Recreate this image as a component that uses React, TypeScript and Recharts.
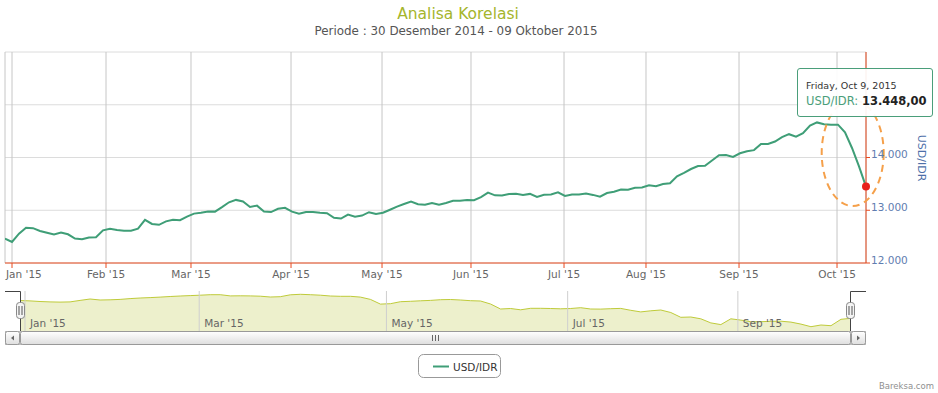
import React from 'react';
import {
  LineChart, Line, XAxis, YAxis, CartesianGrid, ReferenceDot,
  AreaChart, Area, ReferenceLine,
} from 'recharts';

// ---------- DATA ----------
const chartTitle = 'Analisa Korelasi';
const chartSubtitle = 'Periode : 30 Desember 2014 - 09 Oktober 2015';
const seriesName = 'USD/IDR';

// USD/IDR closing values (trading-day ordinal sampling, 30 Dec 2014 -> 9 Oct 2015)
const usdIdr = [
  12464, 12398, 12555, 12667, 12660, 12607, 12574, 12540, 12578, 12544,
  12464, 12451, 12482, 12487, 12620, 12650, 12624, 12610, 12612, 12652,
  12819, 12741, 12724, 12789, 12821, 12811, 12880, 12936, 12952, 12978,
  12974, 13058, 13151, 13196, 13166, 13063, 13088, 12978, 12965, 13027,
  13045, 12974, 12936, 12967, 12969, 12954, 12944, 12857, 12842, 12919,
  12878, 12899, 12963, 12929, 12952, 13010, 13069, 13118, 13166, 13113,
  13103, 13139, 13107, 13137, 13179, 13181, 13194, 13189, 13249, 13333,
  13283, 13278, 13308, 13312, 13291, 13310, 13251, 13295, 13299, 13340,
  13270, 13300, 13300, 13319, 13291, 13257, 13327, 13350, 13393, 13391,
  13426, 13431, 13475, 13454, 13496, 13511, 13642, 13710, 13782, 13837,
  13843, 13943, 14042, 14045, 14011, 14080, 14117, 14140, 14254, 14256,
  14303, 14387, 14442, 14396, 14463, 14607, 14665, 14631, 14620, 14622,
  14478, 14180, 13833, 13448,
];

// month ticks (position in the ordinal index space) and their labels
const monthTickIdx = [1.0, 14.43, 26.57, 40.86, 53.86, 66.57, 79.86, 91.57, 104.86, 118.86];
const monthLabels = ["Jan '15", "Feb '15", "Mar '15", "Apr '15", "May '15", "Jun '15", "Jul '15", "Aug '15", "Sep '15", "Oct '15"];

const yTicks = [12000, 13000, 14000, 15000, 16000];
// 15.000 sits under the tooltip and 16.000 is the hidden last label in the reference
const yTickLabels = ['12.000', '13.000', '14.000', '', ''];
const yDomain = [12000, 16000];

// highlighted annotation (centre of the dashed ellipse, in data space)
const highlightCenter = { idx: 121.1, value: 14085 };

// tooltip
const tooltipDate = 'Friday, Oct 9, 2015';
const tooltipValue = '13.448,00';

// navigator series (relative units)
const navValues = [
  30.5, 30.1, 29.5, 29.1, 28.9, 29.1, 30.6, 32, 31, 31.2,
  31.6, 32.4, 33, 33.4, 33.9, 34.5, 35, 35.4, 35.8, 36.3,
  36.3, 35.1, 35.2, 35.1, 34.8, 34, 34.3, 36.2, 36.7, 36.3,
  35.8, 35, 34.7, 34.7, 33.9, 31.6, 26.9, 27.3, 29.3, 29.7,
  30.2, 30.6, 31.3, 31.5, 31, 30.3, 30, 27, 22, 22.5,
  21.2, 22.7, 22.7, 22.5, 22.2, 22.5, 23.3, 22, 21.9, 22.3,
  22.6, 20.7, 19.1, 20.2, 21, 18.5, 13.7, 14, 12.2, 8.1,
  6.4, 12.2, 10.9, 9.3, 9.3, 9.7, 9.8, 8.9, 6.9, 4.3,
  6, 5.3, 11.7, 12.7,
];
const navDomain = [0, 40];
const navTickIdx = [0.5, 17.9, 36.6, 54.7, 71.7];
const navLabels = ["Jan '15", "Mar '15", "May '15", "Jul '15", "Sep '15"];

// ---------- STYLE ----------
const FONT = '"DejaVu Sans", Verdana, sans-serif';
const AXIS_RED = '#e84a1f';
const LINE_GREEN = '#3f9e77';
const mainData = usdIdr.map((v, i) => ({ i, v }));
const navData = navValues.map((v, i) => ({ i, v }));
const N = usdIdr.length;

const XTick = (props: any) => {
  const { x, y, payload, index } = props;
  const k = monthTickIdx.indexOf(payload.value);
  const label = monthLabels[k >= 0 ? k : index] ?? '';
  const first = k === 0;
  return (
    <g>
      <line x1={x} x2={x} y1={y} y2={y + 5} stroke={AXIS_RED} strokeWidth={1} />
      <text
        x={first ? x - 6 : x}
        y={y + 15}
        textAnchor={first ? 'start' : 'middle'}
        fontFamily={FONT}
        fontSize={10.5}
        fill="#666"
      >
        {label}
      </text>
    </g>
  );
};

const YTick = (props: any) => {
  const { x, y, payload } = props;
  const k = yTicks.indexOf(payload.value);
  const label = yTickLabels[k] ?? '';
  if (!label) return <g />;
  return (
    <g>
      <line x1={x} x2={x + 4} y1={y} y2={y} stroke={AXIS_RED} strokeWidth={1} />
      <text x={x + 5} y={y + 0.5} textAnchor="start" fontFamily={FONT} fontSize={10.5} fill="#5f7db0">
        {label}
      </text>
    </g>
  );
};

const EllipseShape = (props: any) => {
  const { cx, cy } = props;
  if (cx == null || cy == null) return <g />;
  return (
    <ellipse
      cx={cx}
      cy={cy}
      rx={31}
      ry={53}
      fill="none"
      stroke="#f5a04a"
      strokeWidth={2}
      strokeDasharray="7 5"
    />
  );
};

const NavLabel = (text: string) => (props: any) => {
  const vb = props.viewBox || {};
  return (
    <text x={(vb.x ?? 0) + 5} y={36} fontFamily={FONT} fontSize={10.5} fill="#666">
      {text}
    </text>
  );
};

export default function App() {
  return (
    <div style={{ position: 'fixed', left: 0, top: 0, width: 938, height: 393, background: '#fff', overflow: 'hidden' }}>
      {/* main chart */}
      <div style={{ position: 'absolute', left: 0, top: 0 }}>
        <LineChart width={938} height={290} data={mainData} margin={{ top: 52, left: 5, right: 0, bottom: 0 }}>
          <CartesianGrid vertical={false} stroke="#dcdcdc" strokeDasharray="" />
          <CartesianGrid horizontal={false} stroke="#c6c6c6" strokeDasharray="" />
          <XAxis
            dataKey="i"
            type="number"
            domain={[0, N - 1]}
            ticks={monthTickIdx}
            interval={0}
            tick={<XTick />}
            tickLine={false}
            tickSize={0}
            tickMargin={0}
            height={27}
            axisLine={{ stroke: AXIS_RED, strokeWidth: 1 }}
            allowDataOverflow
          />
          <YAxis
            orientation="right"
            type="number"
            domain={yDomain}
            ticks={yTicks}
            interval={0}
            tick={<YTick />}
            tickLine={false}
            tickSize={0}
            tickMargin={0}
            width={72}
            axisLine={{ stroke: AXIS_RED, strokeWidth: 1 }}
            allowDataOverflow
          />
          <YAxis
            yAxisId="left"
            orientation="left"
            type="number"
            domain={[0, 1]}
            width={0}
            tick={false}
            tickLine={false}
            axisLine={{ stroke: AXIS_RED, strokeWidth: 1 }}
          />
          <Line
            type="linear"
            dataKey="v"
            stroke={LINE_GREEN}
            strokeWidth={2}
            dot={false}
            activeDot={false}
            isAnimationActive={false}
          />
          <ReferenceDot
            x={highlightCenter.idx}
            y={highlightCenter.value}
            shape={<EllipseShape />}
            ifOverflow="visible"
          />
          <ReferenceDot
            x={N - 1}
            y={usdIdr[N - 1]}
            r={4}
            fill="#e8201b"
            stroke="none"
            ifOverflow="visible"
          />
        </LineChart>
      </div>

      {/* navigator */}
      <div style={{ position: 'absolute', left: 0, top: 291 }}>
        <AreaChart width={938} height={40} data={navData} margin={{ top: 0, left: 20, right: 87, bottom: 0 }}>
          <XAxis dataKey="i" type="number" domain={[0, navValues.length - 1]} hide />
          <YAxis type="number" domain={navDomain} hide />
          <Area
            type="linear"
            dataKey="v"
            stroke="#bfcb3a"
            strokeWidth={1}
            fill="#edf0cc"
            fillOpacity={1}
            dot={false}
            activeDot={false}
            isAnimationActive={false}
          />
          {navTickIdx.map((t, k) => (
            <ReferenceLine key={k} x={t} stroke="#cfcfcf" strokeWidth={1} label={NavLabel(navLabels[k])} />
          ))}
        </AreaChart>
      </div>

      {/* chrome overlay */}
      <svg width={938} height={393} style={{ position: 'absolute', left: 0, top: 0, pointerEvents: 'none' }}>
        <defs>
          <linearGradient id="sb" x1="0" y1="0" x2="0" y2="1">
            <stop offset="0" stopColor="#ffffff" />
            <stop offset="1" stopColor="#dedede" />
          </linearGradient>
        </defs>
        <text x={458} y={19} textAnchor="middle" fontFamily={FONT} fontSize={15.5} fill="#a5b52c">
          {chartTitle}
        </text>
        <text x={456} y={35} textAnchor="middle" fontFamily={FONT} fontSize={11.9} fill="#555">
          {chartSubtitle}
        </text>
        <text
          x={0}
          y={0}
          transform="translate(918,158) rotate(90)"
          textAnchor="middle"
          fontFamily={FONT}
          fontSize={11}
          fill="#4d6fa9"
        >
          {seriesName}
        </text>

        {/* navigator outline */}
        <path d="M5 291.5 H20.5 V331" stroke="#444" strokeWidth={1} fill="none" />
        <path d="M850.5 331 V291.5 H866" stroke="#444" strokeWidth={1} fill="none" />

        {/* scrollbar */}
        <rect x={5.5} y={331.5} width={860} height={13} fill="#eeeeee" stroke="#bbb" />
        <rect x={20.5} y={331.5} width={830} height={13} rx={2} fill="url(#sb)" stroke="#999" />
        <rect x={5.5} y={331.5} width={14} height={13} rx={2} fill="url(#sb)" stroke="#999" />
        <rect x={851.5} y={331.5} width={14} height={13} rx={2} fill="url(#sb)" stroke="#999" />
        <path d="M11 338 L14 335.5 L14 340.5 Z" fill="#666" />
        <path d="M860 338 L857 335.5 L857 340.5 Z" fill="#666" />
        <g stroke="#666" strokeWidth={1}>
          <line x1={432.5} x2={432.5} y1={335} y2={341} />
          <line x1={435.5} x2={435.5} y1={335} y2={341} />
          <line x1={438.5} x2={438.5} y1={335} y2={341} />
        </g>

        {/* handles */}
        {[20.5, 850.5].map((hx, k) => (
          <g key={k}>
            <rect x={hx - 4} y={302.5} width={8} height={16} rx={3} fill="#f4f4f4" stroke="#888" />
            <line x1={hx - 1.5} x2={hx - 1.5} y1={306} y2={315} stroke="#555" />
            <line x1={hx + 1.5} x2={hx + 1.5} y1={306} y2={315} stroke="#555" />
          </g>
        ))}

        {/* legend */}
        <rect x={418.5} y={354.5} width={82} height={23} rx={5} fill="#fff" stroke="#999" />
        <line x1={433} x2={449} y1={366.5} y2={366.5} stroke={LINE_GREEN} strokeWidth={2} />
        <text x={453} y={370.5} fontFamily={FONT} fontSize={10.5} fill="#333">
          {seriesName}
        </text>

        <text x={934} y={389} textAnchor="end" fontFamily={FONT} fontSize={8.5} fill="#909090">
          Bareksa.com
        </text>
      </svg>

      {/* tooltip */}
      <div
        style={{
          position: 'absolute',
          left: 797,
          top: 68,
          width: 134,
          height: 47,
          background: 'rgba(255,255,255,0.92)',
          border: '1px solid #4a9e7a',
          borderRadius: 3,
          fontFamily: FONT,
          boxSizing: 'content-box',
        }}
      >
        <div style={{ position: 'absolute', left: 8, top: 11, fontSize: 9.5, color: '#333', whiteSpace: 'nowrap' }}>
          {tooltipDate}
        </div>
        <div style={{ position: 'absolute', left: 8, top: 25, fontSize: 11.5, whiteSpace: 'nowrap' }}>
          <span style={{ color: '#4a9e7a' }}>{seriesName}: </span>
          <span style={{ color: '#222', fontWeight: 'bold' }}>{tooltipValue}</span>
        </div>
      </div>
    </div>
  );
}
